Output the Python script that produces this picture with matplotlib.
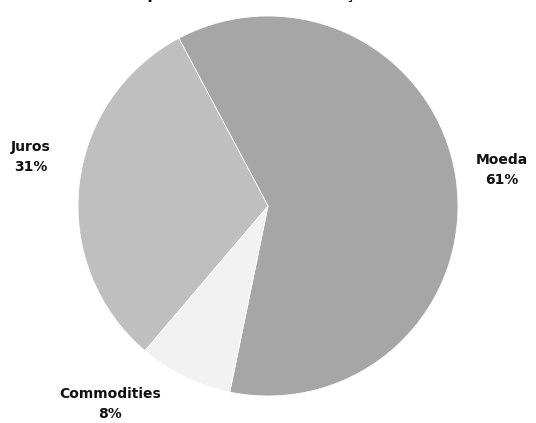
import matplotlib
matplotlib.use("Agg")
import matplotlib.pyplot as plt

categories = ["Moeda", "Commodities", "Juros"]
values = [61, 8, 31]
colors = ["#a6a6a6", "#f2f2f2", "#bfbfbf"]
title = "Risco por Mercado - Distribuição"

W, H = 536, 423
fig = plt.figure(figsize=(W / 100, H / 100), dpi=100)
cx, cy, r = 268, 206, 190
ax = fig.add_axes([(cx - r) / W, (H - cy - r) / H, 2 * r / W, 2 * r / H])
wedges, texts = ax.pie(values, colors=colors, startangle=118, counterclock=False,
                       labels=[f"{c}\n{v}%" for c, v in zip(categories, values)],
                       labeldistance=1.25,
                       wedgeprops=dict(edgecolor="white", linewidth=0.6),
                       textprops=dict(fontsize=10, fontweight="bold", color="#111111",
                                      ha="center", va="center", linespacing=1.55))
ax.set_xlim(-1, 1)
ax.set_ylim(-1, 1)
ax.set_aspect("equal")
ax.axis("off")
for t in texts:
    t.set_horizontalalignment("center")
    t.set_clip_on(False)
# reposition labels to match reference
pos = {"Moeda": (1.23, 0.19), "Juros": (-1.25, 0.26), "Commodities": (-0.83, -0.95)}
for t, c in zip(texts, categories):
    t.set_position(pos[c])
    t.set_verticalalignment("top" if c == "Commodities" else "center")

fig.text(0.44, 1.0 + 0.5 / H, title, ha="center", va="baseline", fontsize=11,
         fontweight="bold")
fig.savefig("out.png", dpi=100)
